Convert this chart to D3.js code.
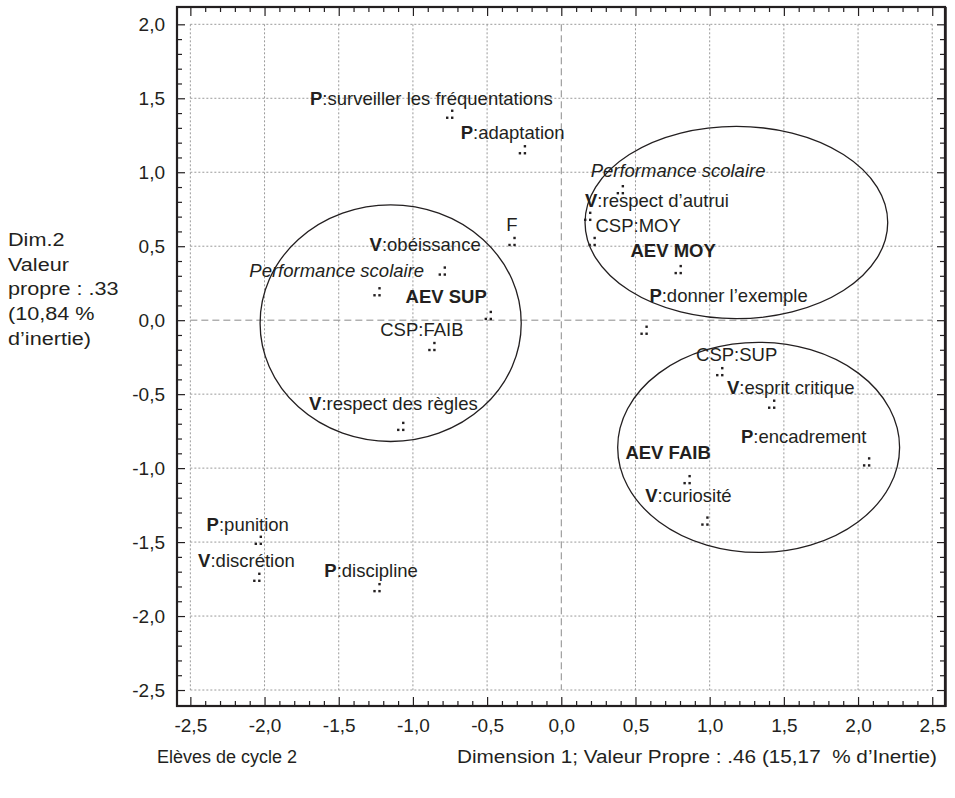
<!DOCTYPE html>
<html>
<head>
<meta charset="utf-8">
<script src="https://cdnjs.cloudflare.com/ajax/libs/d3/7.8.5/d3.min.js"></script>
<style>
  body { margin: 0; background: #fff; }
  text { font-family: "Liberation Sans", Arial, sans-serif; fill: #231f20; }
  .grid { stroke: #9a9a9a; stroke-width: 1; stroke-dasharray: 2,2; }
  .grid.zero { stroke: #8a8a8a; stroke-dasharray: 7,4; }
  .axis line { stroke: #231f20; stroke-width: 1.2; }
  .axis path { display: none; }
  .axis text { font-size: 19px; fill: #231f20; }
  .label { font-size: 18.5px; }
  .group { fill: none; stroke: #231f20; stroke-width: 1.3; }
  .frame { fill: none; stroke: #231f20; stroke-width: 2.2; }
</style>
</head>
<body>
<div id="chart"></div>
<script>

// Data - coordinates on the two first dimensions
var pointLabels = [
  "P:surveiller les fréquentations", "P:adaptation", "F", "V:obéissance",
  "Performance scolaire", "AEV SUP", "CSP:FAIB", "V:respect des règles",
  "Performance scolaire", "V:respect d’autrui", "CSP:MOY", "AEV MOY",
  "P:donner l’exemple", "CSP:SUP", "V:esprit critique", "P:encadrement",
  "AEV FAIB", "V:curiosité", "P:punition", "V:discrétion", "P:discipline"
];
var dim1 = [-0.75, -0.26, -0.33, -0.80, -1.24, -0.49, -0.87, -1.08,
  0.40, 0.18, 0.21, 0.79, 0.56, 1.07, 1.42, 2.06, 0.85, 0.97, -2.04, -2.05, -1.24];
var dim2 = [1.39, 1.15, 0.53, 0.33, 0.19, 0.03, -0.18, -0.72,
  0.88, 0.70, 0.53, 0.34, -0.07, -0.35, -0.57, -0.96, -1.08, -1.36, -1.49, -1.74, -1.81];

// Groups (ellipses) - centre and radii, in axis units
var groupCx = [-1.15, 1.18, 1.33];
var groupCy = [-0.02, 0.66, -0.86];
var groupRx = [0.88, 1.02, 0.95];
var groupRy = [0.80, 0.65, 0.71];

var xTickValues = [-2.5, -2.0, -1.5, -1.0, -0.5, 0.0, 0.5, 1.0, 1.5, 2.0, 2.5];
var yTickValues = [-2.5, -2.0, -1.5, -1.0, -0.5, 0.0, 0.5, 1.0, 1.5, 2.0];

var xTitle = "Dimension 1; Valeur Propre : .46 (15,17  % d’Inertie)";
var yTitle = ["Dim.2", "Valeur", "propre : .33", "(10,84 %", "d’inertie)"];
var sampleTitle = "Elèves de cycle 2";

// Label placement (pixels from the marker: start of text, baseline)
var labelOffsets = [
  [-140, -10], [-62, -11], [-6, -11], [-73, -20], [-128, -15], [-83, -13],
  [-52, -11], [-92, -17], [-30, -13], [-3, -10], [3, -10], [-48, -13],
  [5, -29], [-24, -11], [-45, -11], [-126, -19], [-62, -21], [-60, -19],
  [-52, -10], [-59, -11], [-53, -11]
];

var margin = { top: 7, right: 10, bottom: 92, left: 177 };
var width = 955 - margin.left - margin.right;
var height = 798 - margin.top - margin.bottom;

var root = d3.select("#chart").append("svg")
  .attr("width", 955)
  .attr("height", 798);

var svg = root.append("g")
  .attr("transform", "translate(" + margin.left + "," + margin.top + ")");

// Scales
var x = d3.scaleLinear().domain([-2.59, 2.586]).range([0, width]);
var y = d3.scaleLinear().domain([-2.608, 2.117]).range([height, 0]);

var fmt = function(d){ return d.toFixed(1).replace(".", ","); };

var minorX = d3.range(-25, 26).filter(function(i){ return i % 5 !== 0; })
  .map(function(i){ return i / 10; });
var minorY = d3.range(-25, 21).filter(function(i){ return i % 5 !== 0; })
  .map(function(i){ return i / 10; });

// Grid
var xMin = d3.min(xTickValues), xMax = d3.max(xTickValues);
var yMin = d3.min(yTickValues), yMax = d3.max(yTickValues);

svg.selectAll(".vgrid")
  .data(xTickValues)
  .enter().append("line")
  .attr("class", function(d){ return d === 0 ? "grid zero" : "grid"; })
  .attr("x1", function(d){ return x(d); })
  .attr("x2", function(d){ return x(d); })
  .attr("y1", y(yMax))
  .attr("y2", y(yMin));

svg.selectAll(".hgrid")
  .data(yTickValues)
  .enter().append("line")
  .attr("class", function(d){ return d === 0 ? "grid zero" : "grid"; })
  .attr("y1", function(d){ return y(d); })
  .attr("y2", function(d){ return y(d); })
  .attr("x1", x(xMin))
  .attr("x2", x(xMax));

// Axes - ticks point inside the frame
svg.append("g").attr("class", "axis")
  .attr("transform", "translate(0," + height + ")")
  .call(d3.axisBottom(x).tickValues(xTickValues).tickSize(-9).tickPadding(13).tickFormat(fmt));
svg.append("g").attr("class", "axis")
  .attr("transform", "translate(0," + height + ")")
  .call(d3.axisBottom(x).tickValues(minorX).tickSize(-5).tickFormat(""));
svg.append("g").attr("class", "axis")
  .call(d3.axisTop(x).tickValues(xTickValues).tickSize(-9).tickFormat(""));
svg.append("g").attr("class", "axis")
  .call(d3.axisTop(x).tickValues(minorX).tickSize(-5).tickFormat(""));

svg.append("g").attr("class", "axis")
  .call(d3.axisLeft(y).tickValues(yTickValues).tickSize(-8).tickPadding(12).tickFormat(fmt));
svg.append("g").attr("class", "axis")
  .call(d3.axisLeft(y).tickValues(minorY).tickSize(-5).tickFormat(""));
svg.append("g").attr("class", "axis")
  .attr("transform", "translate(" + width + ",0)")
  .call(d3.axisRight(y).tickValues(yTickValues).tickSize(-8).tickFormat(""));
svg.append("g").attr("class", "axis")
  .attr("transform", "translate(" + width + ",0)")
  .call(d3.axisRight(y).tickValues(minorY).tickSize(-5).tickFormat(""));

// Frame
svg.append("rect")
  .attr("class", "frame")
  .attr("width", width)
  .attr("height", height);
svg.append("line")
  .attr("x1", width + 1).attr("x2", width + 1)
  .attr("y1", 0).attr("y2", height + 1)
  .attr("stroke", "#231f20").attr("stroke-width", 1.5);

// Ellipses around groups
svg.selectAll(".group")
  .data(groupCx)
  .enter().append("ellipse")
  .attr("class", "group")
  .attr("cx", function(d){ return x(d); })
  .attr("cy", function(d, i){ return y(groupCy[i]); })
  .attr("rx", function(d, i){ return x(groupRx[i]) - x(0); })
  .attr("ry", function(d, i){ return y(0) - y(groupRy[i]); });

// Points - three dots marker
var points = svg.selectAll(".point")
  .data(pointLabels)
  .enter().append("g")
  .attr("class", "point")
  .attr("transform", function(d, i){
    return "translate(" + x(dim1[i]) + "," + y(dim2[i]) + ")";
  });

points.selectAll("rect")
  .data([[1, -5], [-4, 2], [1, 2]])
  .enter().append("rect")
  .attr("x", function(d){ return d[0]; })
  .attr("y", function(d){ return d[1]; })
  .attr("width", 2.4)
  .attr("height", 2.4)
  .attr("fill", "#231f20");

// Labels
points.each(function(d, i){
  var t = d3.select(this).append("text")
    .attr("class", "label")
    .attr("x", labelOffsets[i][0])
    .attr("y", labelOffsets[i][1]);
  var m = d.match(/^([PV]):(.*)$/);
  if (m) {
    t.append("tspan").attr("font-weight", "bold").text(m[1]);
    t.append("tspan").text(":" + m[2]);
  } else if (d.indexOf("AEV") === 0) {
    t.attr("font-weight", "bold").text(d);
  } else if (d === "Performance scolaire") {
    t.attr("font-style", "italic").text(d);
  } else {
    t.text(d);
  }
});

// Titles (the source's titles are a little stretched horizontally)
var yt = root.append("text")
  .attr("transform", "translate(8,246) scale(1.17,1)")
  .style("font-size", "18.5px");
yt.selectAll("tspan")
  .data(yTitle)
  .enter().append("tspan")
  .attr("x", 0)
  .attr("dy", function(d, i){ return i === 0 ? 0 : 24.7; })
  .text(function(d){ return d; });

root.append("text")
  .attr("x", 157)
  .attr("y", 763)
  .style("font-size", "18px")
  .text(sampleTitle);

root.append("text")
  .attr("x", 457)
  .attr("y", 763)
  .attr("textLength", 480)
  .attr("lengthAdjust", "spacingAndGlyphs")
  .style("font-size", "18px")
  .style("white-space", "pre")
  .text(xTitle);

</script>
</body>
</html>
